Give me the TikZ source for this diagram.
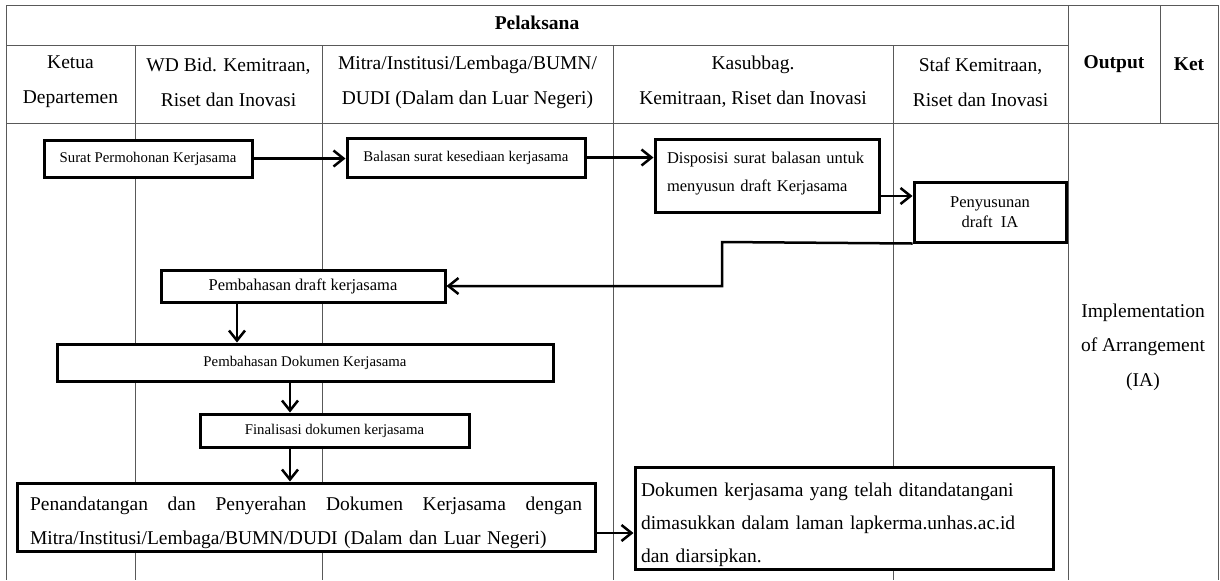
\documentclass[tikz,border=0pt]{standalone}
\usepackage{fontspec}
\setmainfont{Liberation Serif}
\usetikzlibrary{arrows.meta}
\tikzset{
  garis/.style={line width=0.5pt, black!65},
  kotak/.style={draw, fill=white, line width=1.5pt, inner sep=0pt, align=center},
  panah/.style={line width=1.25pt, -{Straight Barb[length=5pt,width=8pt]}},
  kecil/.style={font=\fontsize{7.4}{9}\selectfont},
  sedang/.style={font=\fontsize{8.25}{14}\selectfont},
  besar/.style={font=\fontsize{9.75}{17}\selectfont},
  judul/.style={inner sep=0pt, align=center, font=\fontsize{9.75}{17.5}\selectfont},
  tebal/.style={inner sep=0pt, font=\fontsize{9.75}{12}\selectfont\bfseries},
}
\begin{document}
\begin{tikzpicture}[x=0.5pt, y=-0.5pt]
		\useasboundingbox (0,0) rectangle (1220,580);
		\draw[garis] (6,5) -- (1218,5);
		\draw[garis] (6,45) -- (1068,45);
		\draw[garis] (6,123) -- (1218,123);
		\foreach \x in {6,1068,1218} \draw[garis] (\x,5) -- (\x,580);
		\foreach \x in {135,322,613,893} \draw[garis] (\x,45) -- (\x,580);
		\draw[garis] (1160,5) -- (1160,123);
		\node[tebal] (pelaksana) at (537,23) {Pelaksana};
		\node[judul] (ketua) at (70.5,82) {Ketua\\Departemen};
		\node[judul] (wd) at (228.5,82) {WD Bid. Kemitraan,\\Riset dan Inovasi};
		\node[judul] (mitra) at (467.5,82) {Mitra/Institusi/Lembaga/BUMN/\\DUDI (Dalam dan Luar Negeri)};
		\node[judul] (kasubbag) at (753,82) {Kasubbag.\\Kemitraan, Riset dan Inovasi};
		\node[judul] (staf) at (980.5,82) {Staf Kemitraan,\\Riset dan Inovasi};
		\node[tebal] (output) at (1114,64) {Output};
		\node[tebal] (ket) at (1189,64) {Ket};
		\node[judul, font=\fontsize{9.75}{17.25}\selectfont] (hasil) at (1143,347) {Implementation\\of Arrangement\\(IA)};
		\node[kotak, kecil, minimum width=104pt, minimum height=18.5pt] (surat) at (148,158.5) {Surat Permohonan Kerjasama};
		\node[kotak, kecil, minimum width=119pt, minimum height=19.5pt] (balasan) at (466,157.5) {Balasan surat kesediaan kerjasama};
		\node[kotak, sedang, minimum width=112pt, minimum height=36.5pt, text width=100pt, align=left] (disposisi) at (767,175.5) {Disposisi surat balasan untuk\\menyusun draft Kerjasama\rule[-4pt]{0pt}{4pt}};
		\node[kotak, font=\fontsize{8.25}{10}\selectfont, minimum width=76pt, minimum height=30pt] (penyusunan) at (990,212) {Penyusunan\\draft~~IA};
		\node[kotak, sedang, minimum width=142pt, minimum height=16pt] (draft) at (303,286) {Pembahasan draft kerjasama};
		\node[kotak, kecil, minimum width=248pt, minimum height=18.5pt] (dokumen) at (305,362.5) {Pembahasan Dokumen Kerjasama};
		\node[kotak, kecil, minimum width=134.5pt, minimum height=16.5pt] (finalisasi) at (334.5,430.5) {Finalisasi dokumen kerjasama};
		\node[kotak, besar, minimum width=289pt, minimum height=34pt, text width=276pt, align=left] (tanda) at (306,517) {\rule{0pt}{12.7pt}\hbox to 276pt{Penandatangan\hfill dan\hfill Penyerahan\hfill Dokumen\hfill Kerjasama\hfill dengan}\\Mitra/Institusi/Lembaga/BUMN/DUDI (Dalam dan Luar Negeri)};
		\node[kotak, font=\fontsize{9.75}{16.5}\selectfont, minimum width=209pt, minimum height=51pt, text width=203pt, align=left] (arsip) at (844,518) {\rule{0pt}{13.7pt}Dokumen kerjasama yang telah ditandatangani\\dimasukkan dalam laman lapkerma.unhas.ac.id\\dan diarsipkan.};
		\coordinate (belok) at (722,242);
		\draw[panah] (surat.east) -- (surat.east -| balasan.west);
		\draw[panah] (balasan.east) -- (balasan.east -| disposisi.west);
		\draw[panah] ([yshift=-10.25pt]disposisi.east) -- ([yshift=-10.25pt]disposisi.east -| penyusunan.west);
		\draw[panah] (penyusunan.south west) -- (belok) |- (draft.east);
		\draw[panah] ([xshift=-33pt]draft.south) -- ([xshift=-33pt]draft.south |- dokumen.north);
		\draw[panah] ([xshift=-7.5pt]dokumen.south) -- ([xshift=-7.5pt]dokumen.south |- finalisasi.north);
		\draw[panah] ([xshift=-22.25pt]finalisasi.south) -- ([xshift=-22.25pt]finalisasi.south |- tanda.north);
		\draw[panah] ([yshift=-8pt]tanda.east) -- ([yshift=-8pt]tanda.east -| arsip.west);
\end{tikzpicture}
\end{document}
